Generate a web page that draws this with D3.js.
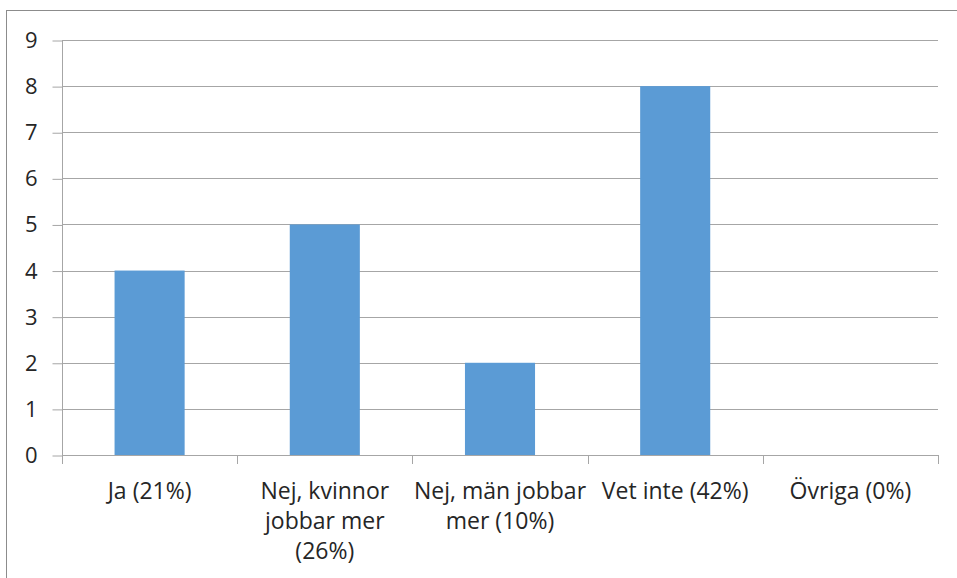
<!DOCTYPE html>
<html>
<head>
<meta charset="utf-8">
<script src="https://cdn.jsdelivr.net/npm/d3@7"></script>
<style>
  body { margin: 0; background: #fff; }
  svg text { font-family: "Open Sans", "Liberation Sans", sans-serif; fill: #262626; }
</style>
</head>
<body>
<svg id="chart" width="957" height="578"></svg>
<script>
// data
var categories = ["Ja (21%)", "Nej, kvinnor jobbar mer (26%)", "Nej, män jobbar mer (10%)", "Vet inte (42%)", "Övriga (0%)"];
var labelLines = [["Ja (21%)"], ["Nej, kvinnor", "jobbar mer", "(26%)"], ["Nej, män jobbar", "mer (10%)"], ["Vet inte (42%)"], ["Övriga (0%)"]];
var values = [4, 5, 2, 8, 0];
var yTicks = [0, 1, 2, 3, 4, 5, 6, 7, 8, 9];

var svg = d3.select("#chart");
var plotL = 62, plotR = 938, plotT = 40, plotB = 455;

// outer frame (runs off right/bottom like the screenshot)
svg.append("rect")
  .attr("x", 6.5).attr("y", 10.5)
  .attr("width", 970).attr("height", 600)
  .attr("fill", "none").attr("stroke", "#8c8c8c").attr("stroke-width", 1);

var x = d3.scaleBand().domain(categories).range([plotL, plotR]).padding(0);
var y = d3.scaleLinear().domain([0, 9]).range([plotB, plotT]);

// gridlines
svg.append("g").selectAll("line")
  .data(yTicks.filter(function(d){ return d > 0; }))
  .enter().append("line")
  .attr("x1", plotL).attr("x2", plotR)
  .attr("y1", function(d){ return Math.round(y(d)) + 0.5; })
  .attr("y2", function(d){ return Math.round(y(d)) + 0.5; })
  .attr("stroke", "#a6a6a6");

// bars
var bw = x.bandwidth() * 0.4;
svg.append("g").selectAll("rect")
  .data(values)
  .enter().append("rect")
  .attr("x", function(d, i){ return x(categories[i]) + (x.bandwidth() - bw) / 2; })
  .attr("y", function(d){ return y(d); })
  .attr("width", bw)
  .attr("height", function(d){ return y(0) - y(d); })
  .attr("fill", "#5b9bd5");

// y axis
var yAxis = svg.append("g")
  .attr("transform", "translate(" + (plotL + 0.5) + ",0.5)")
  .call(d3.axisLeft(y).tickValues(yTicks).tickSize(10).tickPadding(15));
yAxis.select(".domain").attr("stroke", "#a6a6a6").attr("d", "M0," + Math.round(plotT) + "V" + Math.round(plotB));
yAxis.selectAll(".tick line").attr("stroke", "#a6a6a6");
yAxis.selectAll(".tick text").style("font-size", "22px").style("font-family", null).attr("fill", "#262626");

// x axis line + ticks at category boundaries
svg.append("line")
  .attr("x1", plotL).attr("x2", plotR)
  .attr("y1", Math.round(plotB) + 0.5).attr("y2", Math.round(plotB) + 0.5)
  .attr("stroke", "#a6a6a6");
var bounds = categories.map(function(c){ return x(c); }).concat([plotR]);
svg.append("g").selectAll("line")
  .data(bounds)
  .enter().append("line")
  .attr("x1", function(d){ return Math.round(d) + 0.5; })
  .attr("x2", function(d){ return Math.round(d) + 0.5; })
  .attr("y1", plotB).attr("y2", plotB + 9)
  .attr("stroke", "#a6a6a6");

// category labels
var lab = svg.append("g").selectAll("text")
  .data(labelLines)
  .enter().append("text")
  .attr("text-anchor", "middle")
  .style("font-size", "23px")
  .attr("transform", function(d, i){ return "translate(" + (x(categories[i]) + x.bandwidth() / 2) + ",499)"; });
lab.selectAll("tspan")
  .data(function(d){ return d; })
  .enter().append("tspan")
  .attr("x", 0)
  .attr("dy", function(d, j){ return j === 0 ? 0 : 30; })
  .text(function(d){ return d; });
</script>
</body>
</html>
